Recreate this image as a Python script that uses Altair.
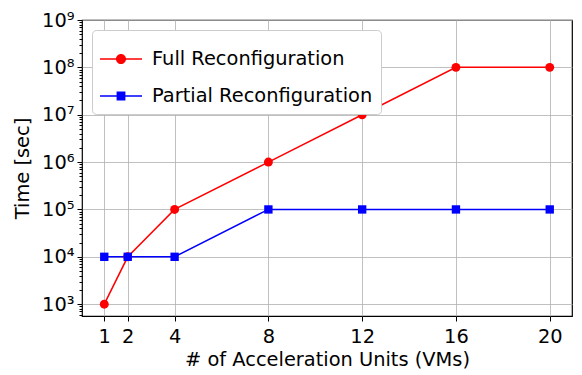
import altair as alt
import pandas as pd

units = [1, 2, 4, 8, 12, 16, 20]
full = [1e3, 1e4, 1e5, 1e6, 1e7, 1e8, 1e8]
partial = [1e4, 1e4, 1e4, 1e5, 1e5, 1e5, 1e5]
series = ["Full Reconfiguration", "Partial Reconfiguration"]
colors = ["#ff0000", "#0000ff"]
x_ticks = [1, 2, 4, 8, 12, 16, 20]
y_ticks = [1e3, 1e4, 1e5, 1e6, 1e7, 1e8, 1e9]
y_minor = [m * 10 ** e for e in range(2, 9) for m in range(2, 10)]
y_minor = [v for v in y_minor if 10 ** 2.75 <= v <= 1e9]

df = pd.DataFrame({
    "units": units * 2,
    "time": full + partial,
    "series": [series[0]] * len(units) + [series[1]] * len(units),
})

FONT = "DejaVu Sans"
FS = 19.4
xs = alt.Scale(domain=[0.05, 20.95], nice=False, zero=False)
ys = alt.Scale(type="log", domain=[10 ** 2.75, 1e9], nice=False)
cs = alt.Scale(domain=series, range=colors)

line_path = "M-1,-0.036L1,-0.036L1,0.036L-1,0.036Z"
circ = "M0.24,0A0.24,0.24 0 1,1 -0.24,0A0.24,0.24 0 1,1 0.24,0Z"
sq = "M-0.21,-0.21L0.21,-0.21L0.21,0.21L-0.21,0.21Z"
shape_range = [line_path + circ, line_path + sq]

sup = "['⁰','¹','²','³','⁴','⁵','⁶','⁷','⁸','⁹']"

x_axis = alt.Axis(
    values=x_ticks, title="# of Acceleration Units (VMs)", grid=True,
    gridColor="#b0b0b0", gridWidth=0.8, labelFontSize=FS, titleFontSize=FS,
    labelFont=FONT, titleFont=FONT, labelColor="black", titleColor="black",
    tickColor="black", tickSize=5, domain=False, titleFontWeight="normal",
    labelPadding=6, titlePadding=5, format="d")

y_enc = alt.Y("time:Q", scale=ys, axis=alt.Axis(
    values=y_ticks, title="Time [sec]", grid=True, orient="left",
    gridColor="#b0b0b0", gridWidth=0.8, labelFontSize=FS, titleFontSize=FS,
    labelFont=FONT, titleFont=FONT, labelColor="black", titleColor="black",
    tickColor="black", tickSize=5, domain=False, titleFontWeight="normal",
    labelPadding=3, titlePadding=9,
    labelExpr="'10' + " + sup + "[round(log(datum.value)/LN10)]"))

legend = alt.Legend(title=None, orient="none", legendX=10, legendY=10,
                    labelFontSize=FS, labelFont=FONT, labelColor="black",
                    fillColor="white", strokeColor="#cccccc", cornerRadius=4,
                    padding=8, symbolSize=1764, symbolStrokeWidth=0,
                    symbolOpacity=1, rowPadding=6, labelOffset=10,
                    labelLimit=500)

base = alt.Chart(df)
X = alt.X("units:Q", scale=xs, axis=x_axis)

lines = base.mark_line(strokeWidth=1.5).encode(
    x=X, y=y_enc,
    color=alt.Color("series:N", scale=cs, legend=legend))

pts_full = base.transform_filter(alt.datum.series == series[0]).mark_point(
    shape="circle", filled=True, size=80, opacity=1).encode(
    x=X, y=alt.Y("time:Q", scale=ys, axis=None),
    color=alt.Color("series:N", scale=cs, legend=legend))

pts_part = base.transform_filter(alt.datum.series == series[1]).mark_point(
    shape="square", filled=True, size=70, opacity=1).encode(
    x=X, y=alt.Y("time:Q", scale=ys, axis=None),
    color=alt.Color("series:N", scale=cs, legend=legend))

leg_layer = base.mark_point(filled=True, opacity=0).encode(
    x=X, y=alt.Y("time:Q", scale=ys, axis=None),
    color=alt.Color("series:N", scale=cs, legend=legend),
    shape=alt.Shape("series:N", scale=alt.Scale(domain=series, range=shape_range), legend=legend))

minor = base.mark_point(opacity=0).encode(
    y=alt.Y("time:Q", scale=ys, axis=alt.Axis(
        values=y_minor, orient="left", labels=False, title=None, grid=False,
        tickSize=3, tickColor="black", domain=False, ticks=True)))

chart = alt.layer(lines, pts_full, pts_part, leg_layer, minor).resolve_axis(
    y="independent").properties(
    width=490, height=296,
    autosize=alt.AutoSizeParams(type="none"),
    padding={"left": 74, "top": 12, "right": 2, "bottom": 58},
).configure_view(stroke="black", strokeWidth=1.2)

chart.save("out.html", embed_options={"renderer": "svg", "actions": False})
